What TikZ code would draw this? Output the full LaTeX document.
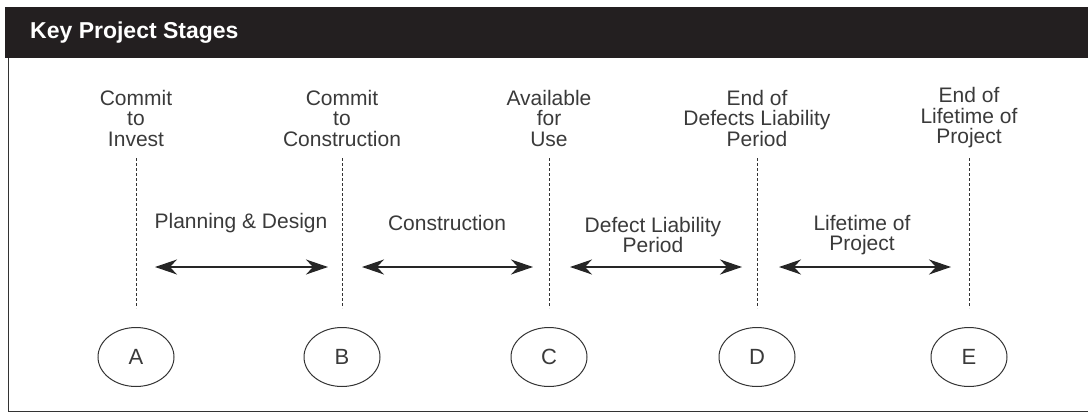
\documentclass[tikz,border=0pt]{standalone}
\usepackage{fontspec}
\setmainfont{Liberation Sans}
\usetikzlibrary{shapes.geometric,arrows.meta}
\definecolor{barblack}{HTML}{231F20}
\definecolor{txtgray}{HTML}{3A3A3A}
\definecolor{linegray}{HTML}{333333}
\tikzset{
  lbl/.style={text=txtgray,font=\fontsize{21}{20.5}\selectfont,align=center,inner sep=0pt},
  stagelbl/.style={lbl},
  stageell/.style={ellipse,draw=linegray,line width=1pt,minimum width=76pt,minimum height=59pt,inner sep=0pt,text=txtgray,font=\fontsize{22}{22}\selectfont},
  guide/.style={draw=linegray,line width=0.9pt,dash pattern=on 3pt off 2pt},
  span/.style={draw=black!85,line width=1.3pt,{Stealth[length=22pt,width=15pt,inset=7pt]}-{Stealth[length=22pt,width=15pt,inset=7pt]}},
  frame/.style={draw=linegray,line width=1pt}
}
\begin{document}
\begin{tikzpicture}[x=1pt,y=-1pt]
\useasboundingbox (0,0) rectangle (1088,413);
% header bar
\fill[barblack] (5,7) rectangle (1088,58);
\node[anchor=west,text=white,font=\fontsize{23}{24}\selectfont\bfseries,inner sep=0pt] (title) at (30,33) {Key Project Stages};
% frame
\draw[frame] (8,58) -- (8,411) -- (1088,411);
% stage labels
\node[stagelbl] (ta) at (136,118) {Commit\\to\\Invest};
\node[stagelbl] (tb) at (342,118) {Commit\\to\\Construction};
\node[stagelbl] (tc) at (549,118) {Available\\for\\Use};
\node[stagelbl] (td) at (757,118) {End of\\Defects Liability\\Period};
\node[stagelbl] (te) at (969,118) {End of\\Lifetime of\\Project};
% ellipses
\node[stageell] (A) at (136,357) {A};
\node[stageell] (B) at (342,357) {B};
\node[stageell] (C) at (549,357) {C};
\node[stageell] (D) at (757,357) {D};
\node[stageell] (E) at (969,357) {E};
% dashed guides
\foreach \n/\x in {a/136,b/342,c/549,d/757,e/969}{
  \coordinate (g\n1) at (\x,158);
  \coordinate (g\n2) at (\x,308);
  \draw[guide] (g\n1) -- (g\n2);
}
% arrows
\coordinate (p1) at (155,267); \coordinate (q1) at (328,267);
\coordinate (p2) at (362,267); \coordinate (q2) at (533,267);
\coordinate (p3) at (570,267); \coordinate (q3) at (742,267);
\coordinate (p4) at (779,267); \coordinate (q4) at (951,267);
\draw[span] (p1) -- (q1);
\draw[span] (p2) -- (q2);
\draw[span] (p3) -- (q3);
\draw[span] (p4) -- (q4);
% arrow labels
\node[lbl] (l1) at (241,223) {Planning \& Design};
\node[lbl] (l2) at (447,223) {Construction};
\node[lbl] (l3) at (653,235) {Defect Liability\\Period};
\node[lbl] (l4) at (862,235) {Lifetime of\\Project};
\end{tikzpicture}
\end{document}
